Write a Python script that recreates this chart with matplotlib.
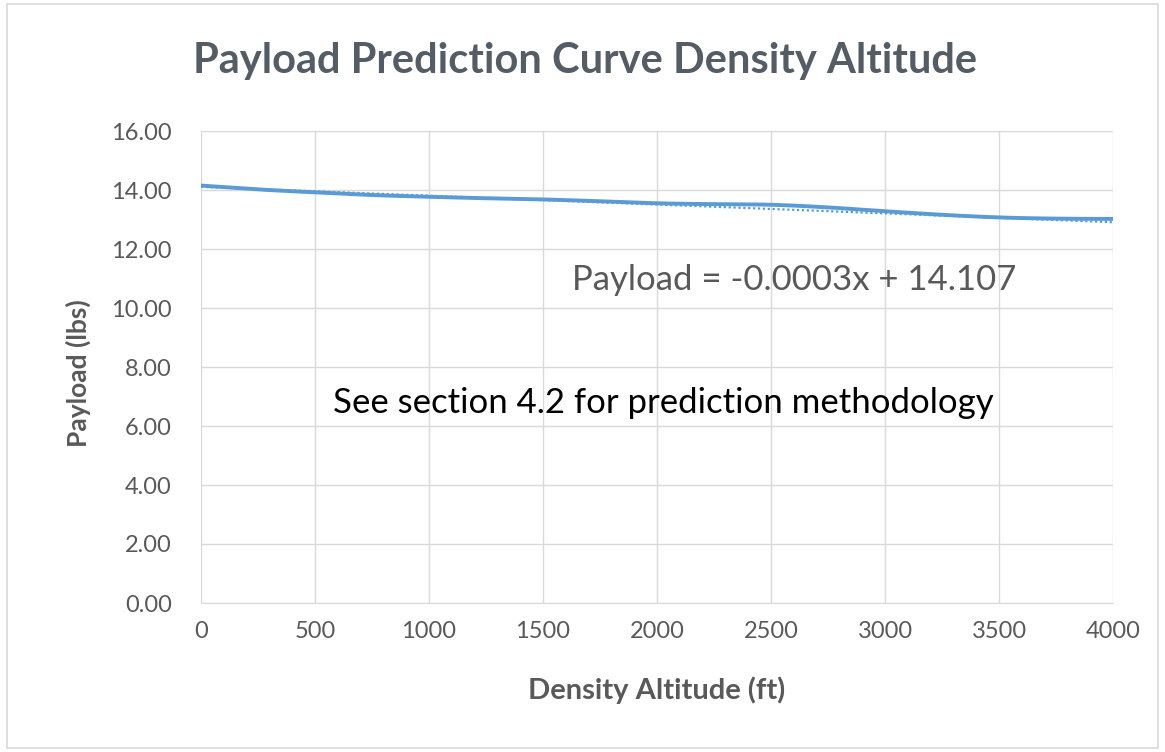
import numpy as np
import matplotlib
matplotlib.use("Agg")
import matplotlib.pyplot as plt
from matplotlib.patches import Rectangle

# Density altitude (ft) and predicted payload (lbs)
altitude = [0, 250, 500, 750, 1000, 1250, 1500, 1750, 2000, 2250, 2500, 2750, 3000, 3250, 3500, 3750, 4000]
payload = [14.15, 14.02, 13.92, 13.83, 13.77, 13.72, 13.68, 13.62, 13.55, 13.52, 13.50, 13.41, 13.28, 13.16, 13.07, 13.03, 13.02]

# Linear trendline coefficients
slope = -0.0003
intercept = 14.107

x_ticks = [0, 500, 1000, 1500, 2000, 2500, 3000, 3500, 4000]
y_ticks = [0, 2, 4, 6, 8, 10, 12, 14, 16]

plt.rcParams['font.family'] = ['Lato', 'DejaVu Sans']


def catmull_rom(x, y, n=30):
    """Smooth a polyline through the given points with a Catmull-Rom spline."""
    x = np.asarray(x, dtype=float)
    y = np.asarray(y, dtype=float)
    px = np.concatenate([[2 * x[0] - x[1]], x, [2 * x[-1] - x[-2]]])
    py = np.concatenate([[2 * y[0] - y[1]], y, [2 * y[-1] - y[-2]]])
    out_x, out_y = [], []
    t = np.linspace(0, 1, n, endpoint=False)
    for i in range(1, len(px) - 2):
        for arr, out in ((px, out_x), (py, out_y)):
            p0, p1, p2, p3 = arr[i - 1], arr[i], arr[i + 1], arr[i + 2]
            out.extend(0.5 * ((2 * p1) + (-p0 + p2) * t
                              + (2 * p0 - 5 * p1 + 4 * p2 - p3) * t ** 2
                              + (-p0 + 3 * p1 - 3 * p2 + p3) * t ** 3))
    out_x.append(x[-1])
    out_y.append(y[-1])
    return np.array(out_x), np.array(out_y)


fig = plt.figure(figsize=(11.65, 7.52), dpi=100)
W, H = 1165, 752
left, right, top, bottom = 201, 1113, 131, 603
ax = fig.add_axes([left / W, 1 - bottom / H, (right - left) / W, (bottom - top) / H])

# outer chart border
fig.patches.append(Rectangle((7 / W, 4 / H), 1151 / W, 744 / H, transform=fig.transFigure,
                             fill=False, edgecolor='#d9d9d9', linewidth=1.2))

sx, sy = catmull_rom(altitude, payload)
ax.plot(sx, sy, color='#5b9bd5', linewidth=2.8, solid_capstyle='round', zorder=3)

trend_x = np.array([altitude[0], altitude[-1]], dtype=float)
ax.plot(trend_x, slope * trend_x + intercept, color='#5b9bd5', linewidth=1.6,
        linestyle=(0, (1, 1.2)), zorder=4)

ax.set_xlim(0, 4000)
ax.set_ylim(0, 16)
ax.set_xticks(x_ticks)
ax.set_yticks(y_ticks)
ax.set_xticklabels([str(v) for v in x_ticks])
ax.set_yticklabels([f"{v:.2f}" for v in y_ticks])
ax.grid(True, color='#d9d9d9', linewidth=1.0)
ax.set_axisbelow(True)
for side in ['top', 'right', 'left']:
    ax.spines[side].set_visible(False)
ax.spines['bottom'].set_color('#d9d9d9')
ax.tick_params(axis='both', length=0, labelsize=17, colors='#595959')
ax.tick_params(axis='y', pad=21)
ax.tick_params(axis='x', pad=13)

ax.set_xlabel('Density Altitude (ft)', fontsize=21, fontweight='bold', color='#595959')
ax.xaxis.set_label_coords(0.5, -(690 - bottom) / (bottom - top), transform=ax.transAxes)
ax.xaxis.label.set_va('center')
ax.set_ylabel('Payload (lbs)', fontsize=19, fontweight='bold', color='#595959')
ax.yaxis.set_label_coords(-(left - 78) / (right - left), 0.5 + (367 - 373) / (bottom - top),
                          transform=ax.transAxes)
ax.yaxis.label.set_va('center')

fig.text(585 / W, 1 - 61 / H, 'Payload Prediction Curve Density Altitude', ha='center', va='center',
         fontsize=30, fontweight='bold', color='#545c66')

fig.text(572 / W, 1 - 280 / H, 'Payload = -0.0003x + 14.107', ha='left', va='center',
         fontsize=25, color='#595959')
fig.text(333 / W, 1 - 403 / H, 'See section 4.2 for prediction methodology', ha='left', va='center',
         fontsize=25, color='#000000')

fig.savefig('out.png', dpi=100)
